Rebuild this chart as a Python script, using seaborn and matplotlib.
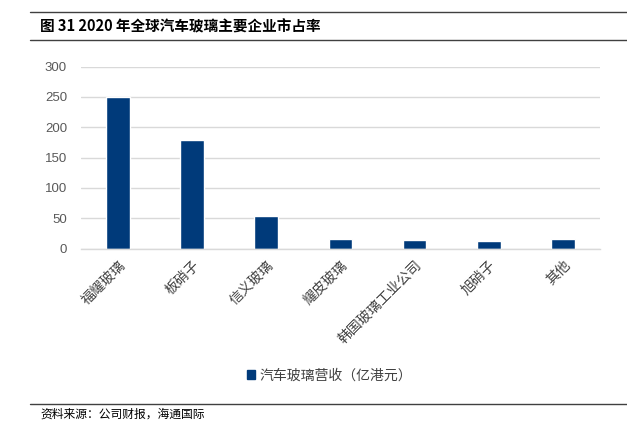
import matplotlib
matplotlib.use("Agg")
import matplotlib.pyplot as plt
import seaborn as sns
import pandas as pd
from matplotlib.lines import Line2D
from matplotlib.patches import Patch

# data
companies = ["福耀玻璃", "板硝子", "信义玻璃", "耀皮玻璃", "韩国玻璃工业公司", "旭硝子", "其他"]
revenue = [250, 179, 53.5, 15.4, 14.3, 13.2, 16]
series_name = "汽车玻璃营收（亿港元）"
y_ticks = [0, 50, 100, 150, 200, 250, 300]

title = "图 31 2020 年全球汽车玻璃主要企业市占率"
source = "资料来源：公司财报，海通国际"

sns.set_style("white")
plt.rcParams['font.family'] = ['Noto Sans CJK SC', 'DejaVu Sans']

df = pd.DataFrame({"company": companies, "revenue": revenue})

fig = plt.figure(figsize=(6.27, 4.22), dpi=100)
ax = fig.add_axes([0.129, 0.411, 0.828, 0.431])

bar_color = "#003A7A"
sns.barplot(data=df, x="company", y="revenue", color=bar_color,
            width=0.32, saturation=1, ax=ax)

ax.set_xlim(-0.5, len(companies) - 0.5)
ax.set_ylim(0, 300)
ax.set_yticks(y_ticks)
ax.set_yticklabels([str(t) for t in y_ticks], fontfamily="Liberation Sans",
                   fontsize=9.5, color="#595959")
ax.yaxis.grid(True, color="#D9D9D9", linewidth=1)
ax.set_axisbelow(True)
for s in ["top", "right", "left"]:
    ax.spines[s].set_visible(False)
ax.spines["bottom"].set_color("#D9D9D9")
ax.spines["bottom"].set_linewidth(1)
ax.tick_params(axis="both", length=0)
ax.tick_params(axis="y", pad=10)
ax.set_xticks(range(len(companies)))
ax.set_xticklabels(companies, rotation=45, ha="right", rotation_mode="anchor",
                   fontsize=10, color="#404040")
ax.tick_params(axis="x", pad=7)
ax.set_xlabel("")
ax.set_ylabel("")

# legend below the axes
handle = Patch(facecolor=bar_color, edgecolor=bar_color)
fig.legend([handle], [series_name], loc="center", bbox_to_anchor=(0.525, 0.11),
           frameon=False, handlelength=0.6, handleheight=0.6, handletextpad=0.3,
           prop={"size": 10}, labelcolor="#404040")

# header / footer rules and text
fig.add_artist(Line2D([0.048, 1.0], [1 - 11.7 / 422] * 2, color="#404040", linewidth=1))
fig.add_artist(Line2D([0.048, 1.0], [1 - 39.5 / 422] * 2, color="#404040", linewidth=1))
fig.add_artist(Line2D([0.048, 1.0], [1 - 404 / 422] * 2, color="#404040", linewidth=1))
fig.text(40 / 627, 1 - 26 / 422, title, fontsize=10.5, fontweight="bold",
         va="center", ha="left", color="black")
fig.text(40 / 627, 1 - 414 / 422, source, fontsize=8.5, va="center", ha="left",
         color="black")

fig.savefig("out.png", dpi=100)
